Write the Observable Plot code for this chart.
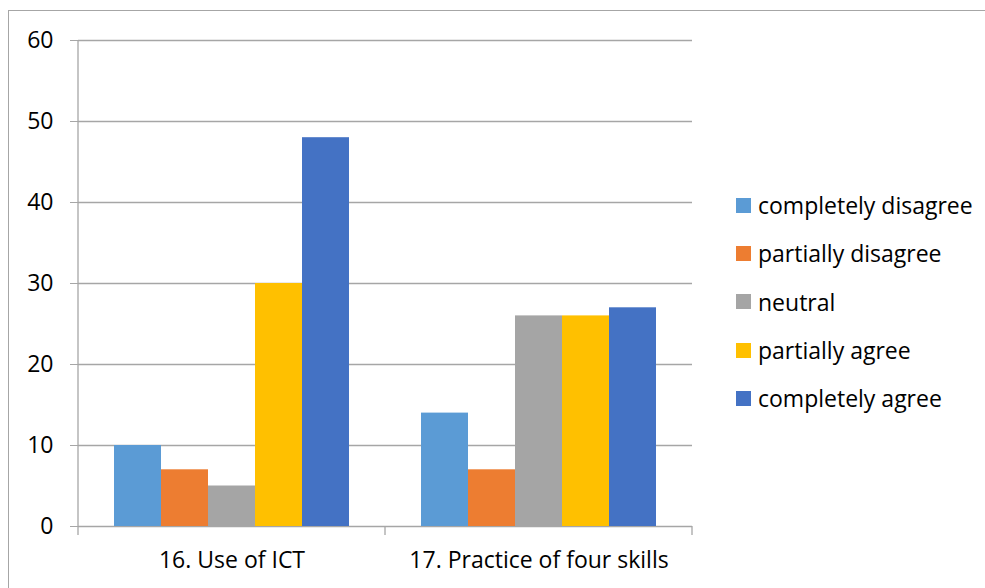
<!DOCTYPE html>
<html>
<head>
<meta charset="utf-8">
<script src="https://cdn.jsdelivr.net/npm/d3@7"></script>
<script src="https://cdn.jsdelivr.net/npm/@observablehq/plot@0.6"></script>
<style>
  body { margin: 0; background: #fff; }
  #wrap { position: relative; width: 985px; height: 588px; overflow: hidden; font-family: "Open Sans", sans-serif; }
  #border { position: absolute; left: 8px; top: 10px; width: 1000px; height: 600px; border: 1px solid #a6a6a6; box-sizing: border-box; }
  #chart { position: absolute; left: 0; top: 0; }
  #legend { position: absolute; left: 736px; top: 181px; }
  .item { display: flex; align-items: center; height: 48.3px; font-size: 23px; color: #000; }
  .sw { width: 15px; height: 15px; margin-right: 7px; }
</style>
</head>
<body>
<div id="wrap">
  <div id="border"></div>
  <div id="chart"></div>
  <div id="legend"></div>
</div>
<script>
const categories = ["16. Use of ICT", "17. Practice of four skills"];
const series = ["completely disagree", "partially disagree", "neutral", "partially agree", "completely agree"];
const colors = ["#5B9BD5", "#ED7D31", "#A5A5A5", "#FFC000", "#4472C4"];
const values = [
  [10, 7, 5, 30, 48],
  [14, 7, 26, 26, 27]
];
const yTicks = [0, 10, 20, 30, 40, 50, 60];

const data = [];
categories.forEach((c, i) => series.forEach((s, j) => data.push({category: c, series: s, value: values[i][j]})));

const plot = Plot.plot({
  width: 985,
  height: 588,
  marginLeft: 77,
  marginRight: 293,
  marginTop: 40,
  marginBottom: 62,
  style: {fontFamily: "Open Sans, sans-serif", fontSize: "23px", color: "#000", background: "transparent"},
  fx: {domain: categories, padding: 0, label: null},
  x: {domain: series, paddingInner: 0, paddingOuter: 0.75, axis: null},
  y: {domain: [0, 60], label: null},
  color: {domain: series, range: colors},
  marks: [
    Plot.ruleY(yTicks, {stroke: "#a6a6a6", strokeWidth: 1.3}),
    Plot.barY(data, {fx: "category", x: "series", y: "value", fill: "series"}),
    Plot.axisY(yTicks, {tickSize: 8, tickPadding: 17, stroke: "#a6a6a6", fontSize: 23, fill: "#000"}),
    Plot.axisFx({anchor: "bottom", tickSize: 0, tickPadding: 25, fontSize: 23, fill: "#000", label: null})
  ]
});
document.getElementById("chart").appendChild(plot);

// axis line and category-boundary ticks, placed from the scales
const fx = plot.scale("fx");
const y = plot.scale("y");
const svg = d3.select(plot);
const y0 = y.apply(0), y60 = y.apply(60);
const left = fx.apply(categories[0]);
svg.append("line").attr("x1", left).attr("x2", left).attr("y1", y60).attr("y2", y0 + 9)
  .attr("stroke", "#a6a6a6").attr("stroke-width", 1.3);
categories.forEach(c => {
  const xr = fx.apply(c) + fx.bandwidth;
  svg.append("line").attr("x1", xr).attr("x2", xr).attr("y1", y0).attr("y2", y0 + 9)
    .attr("stroke", "#a6a6a6").attr("stroke-width", 1.3);
});

const legend = d3.select("#legend");
series.forEach((s, j) => {
  const it = legend.append("div").attr("class", "item");
  it.append("div").attr("class", "sw").style("background", colors[j]);
  it.append("span").text(s);
});
</script>
</body>
</html>
